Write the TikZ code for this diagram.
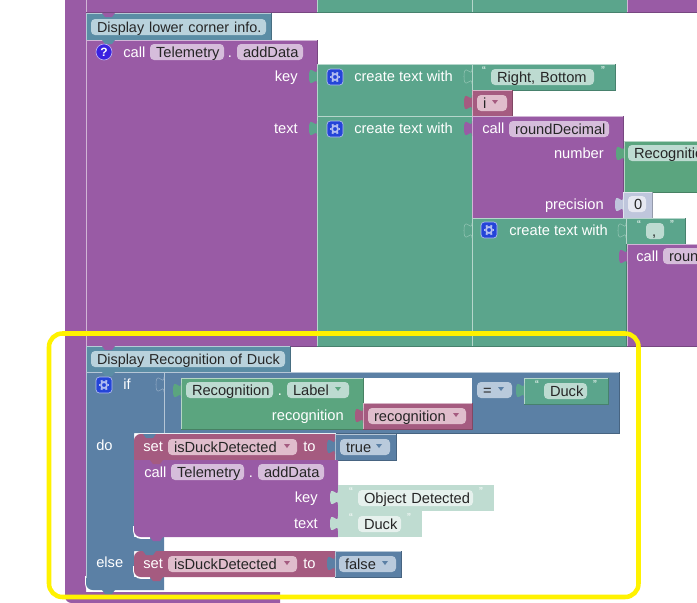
\documentclass[tikz,border=0pt]{standalone}
\usepackage{fontspec}
\setmainfont{Liberation Sans}

\definecolor{purp}{HTML}{995BA5}
\definecolor{purpfld}{HTML}{D6BDDB}
\definecolor{txtgreen}{HTML}{5BA58C}
\definecolor{txtfld}{HTML}{BDDBD1}
\definecolor{objgreen}{HTML}{5BA57F}
\definecolor{logic}{HTML}{5B80A5}
\definecolor{logicfld}{HTML}{B9CADC}
\definecolor{varcol}{HTML}{A55B80}
\definecolor{varfld}{HTML}{E0BDCC}
\definecolor{note}{HTML}{5B8DA5}
\definecolor{notefld}{HTML}{B9D2DC}
\definecolor{numcol}{HTML}{BFC6DC}
\definecolor{numfld}{HTML}{E6E8F1}
\definecolor{paletxt}{HTML}{BFDCD1}
\definecolor{palefld}{HTML}{E6F1ED}
\definecolor{gearblue}{HTML}{2444D8}
\definecolor{helpblue}{HTML}{3A22E0}

\tikzset{
  lbl/.style = {text = white, inner sep = 0pt, text height = 8.5pt, text depth = 1pt,
    font = \fontsize{11}{13}\selectfont},
  field/.style = {text = black!85, rounded corners = 3pt, inner ysep = 0pt, inner xsep = 4.5pt,
    minimum height = 12pt, text height = 8.5pt, text depth = 1pt, align = left,
    font = \fontsize{11}{13}\selectfont},
  quot/.style = {text = white, inner sep = 0pt, font = \fontsize{8.5}{9}\selectfont},
  mutator/.style = {fill = gearblue, draw = white!65!gearblue, line width = .5pt,
    rounded corners = 2.5pt, minimum size = 12pt, inner sep = 0pt},
  helpicon/.style = {circle, fill = helpblue, draw = white!65!helpblue, line width = .5pt,
    text = white, inner sep = 0pt, minimum size = 12pt, font = \fontsize{9}{9}\selectfont\bfseries},
  gearring/.style = {line width = 1.3pt, white!65!gearblue},
  gearteeth/.style = {line width = 1.5pt, white!65!gearblue},
  hilite/.style = {draw = yellow, line width = 3.4pt, rounded corners = 10pt},
  sliver/.style = {draw = white, line width = 1.2pt, rounded corners = 5pt},
}

% rectangular block with its light and dark edges
\newcommand{\blk}[5]{
  \fill[#1] (#2,#3) rectangle (#4,#5);
  \draw[line width = .5pt, white!55!#1] (#2,#5) |- (#4,#3);
  \draw[line width = .5pt, black!22!#1] (#2,#5) -| (#4,#3);
}
\newcommand{\fld}[6]{
  \pgfmathsetmacro{\fldw}{(#4-#3-12)*0.75}
  \node[field, fill = #2, text width = \fldw pt] (#1) at ({(#3+#4)/2},#5) {\mbox{#6}};
}
\newcommand{\ddarrow}[3]{\fill[#3] (#1-3,#2-2) -- (#1+3,#2-2) -- (#1,#2+2) -- cycle;}
\newcommand{\tabpath}[2]{(#1,#2-7.5) .. controls (#1,#2+2.5) and (#1-8,#2-15.5) .. (#1-8,#2)
  .. controls (#1-8,#2+15.5) and (#1,#2-2.5) .. (#1,#2+7.5)}
\newcommand{\tabfull}[3]{\fill[#1] \tabpath{#2}{#3} -- cycle;}
\newcommand{\tabhollow}[3]{\draw[line width = .4pt, white!35!#1] \tabpath{#2}{#3};}
\newcommand{\notch}[3]{\fill[#1] (#2,#3) -- (#2+3,#3+4) -- (#2+10,#3+4) -- (#2+13,#3) -- cycle;}
\newcommand{\gearicon}[3]{
  \node[mutator] (#1) at (#2,#3) {};
  \draw[gearring] (#2,#3) circle (3);
  \foreach \a in {0,60,...,300}
    \draw[gearteeth] ([shift = {(\a:3.6)}]#2,#3) -- ([shift = {(\a:5.4)}]#2,#3);
}

\begin{document}
\begin{tikzpicture}[x = 0.75pt, y = -0.75pt]
  \useasboundingbox (0,0) rectangle (697,603);
  \clip (0,0) rectangle (697,603);

  % stack around the two groups
  \fill[purp] (65,0) -- (86,0) -- (86,592) -- (280,592) -- (280,603)
    [rounded corners = 5pt] -- (65,603) [sharp corners] -- cycle;
  \draw[line width = .5pt, white!55!purp] (86,0) -- (86,346);
  \blk{purp}{86}{-3}{317}{12}
  \blk{txtgreen}{317}{-3}{472}{12}
  \blk{txtgreen}{472}{-3}{627}{12}
  \blk{purp}{627}{-3}{700}{12}

  % lower corner group
  \blk{note}{86}{13}{271}{40}
  \notch{purp}{102}{13}
  \fld{note1}{notefld}{91}{266}{27}{\fontsize{10.8}{13}\selectfont Display lower corner info.}
  \blk{purp}{86}{40}{317}{346}
  \notch{note}{102}{40}
  \node[helpicon] (help1) at (104,52) {?};
  \node[lbl, anchor = west] (call1) at (123,52) {call};
  \fld{tele1}{purpfld}{150}{224}{52}{Telemetry}
  \node[lbl, anchor = center] (dot1) at (230,52) {.};
  \fld{add1}{purpfld}{237}{303}{52}{addData}
  \node[lbl, anchor = east] (key1) at (298,76) {key};
  \node[lbl, anchor = east] (text1) at (298,128) {text};

  \blk{txtgreen}{317}{64}{472}{116}
  \blk{txtgreen}{317}{116}{472}{346}
  \tabfull{txtgreen}{317}{76.5}
  \tabfull{txtgreen}{317}{128.5}
  \gearicon{gear1}{335}{77}
  \gearicon{gear2}{335}{129}
  \node[lbl, anchor = west] (create1) at (354,76) {create text with};
  \node[lbl, anchor = west] (create2) at (354,128) {create text with};

  \blk{txtgreen}{472}{64}{615}{90}
  \tabhollow{txtgreen}{472}{76.5}
  \node[quot] (q1) at (484,71) {“};
  \fld{right1}{txtfld}{491}{594}{77}{Right, Bottom}
  \node[quot] (q2) at (603,71) {”};
  \blk{varcol}{472}{90}{512}{116}
  \tabfull{varcol}{472}{102.5}
  \fld{var1}{varfld}{477}{507}{103}{i}
  \ddarrow{495}{102}{varcol}

  \blk{purp}{472}{116}{623}{218}
  \tabfull{purp}{472}{128.5}
  \node[lbl, anchor = west] (call2) at (482,128) {call};
  \fld{round1}{purpfld}{509}{609}{129}{roundDecimal}
  \node[lbl, anchor = east] (number1) at (604,153) {number};
  \node[lbl, anchor = east] (prec1) at (604,204) {precision};

  \blk{objgreen}{624}{141}{700}{192}
  \tabfull{objgreen}{624}{153.5}
  \fld{recog1}{txtfld}{628}{715}{153}{Recognition}
  \blk{numcol}{623}{192}{652}{218}
  \tabfull{numcol}{623}{204.5}
  \fld{num1}{numfld}{628}{646}{204}{0}

  \blk{txtgreen}{472}{218}{626}{346}
  \tabhollow{txtgreen}{472}{230.5}
  \gearicon{gear3}{489}{230}
  \node[lbl, anchor = west] (create3) at (509,230) {create text with};
  \blk{txtgreen}{626}{218}{685}{244}
  \tabhollow{txtgreen}{626}{230.5}
  \node[quot] (q3) at (639,225) {“};
  \fld{comma1}{txtfld}{646}{664}{231}{,}
  \node[quot] (q4) at (672,225) {”};
  \blk{purp}{627}{244}{700}{346}
  \tabfull{purp}{627}{256.5}
  \node[lbl, anchor = west] (call3) at (636,256) {call};
  \fld{round2}{purpfld}{663}{763}{256}{roundDecimal}

  % duck group
  \blk{note}{86}{346}{290}{372}
  \notch{purp}{102}{346}
  \fld{note2}{notefld}{91}{285}{359}{\fontsize{10.8}{13}\selectfont Display Recognition of Duck}

  \draw[sliver] (86,576) -- (86,591) -- (102,591);
  \fill[logic] (86,372) -- (619,372) -- (619,433) -- (134,433) -- (134,537) -- (164,537) -- (164,551)
    -- (134,551) -- (134,577) -- (164,577) -- (164,590)
    [rounded corners = 5pt] -- (86,590) [sharp corners] -- cycle;
  \draw[line width = .5pt, white!55!logic] (86,578) -- (86,372) -- (619,372);
  \draw[line width = .5pt, white!55!logic] (164,372) -- (164,433);
  \draw[line width = .5pt, black!22!logic] (619,372) -- (619,433) -- (336,433);
  \notch{note}{102}{372}
  \notch{logic}{102}{590}
  \fill[white] (472,378) rectangle (363,403);
  \gearicon{gear4}{104}{385}
  \node[lbl, anchor = west] (if1) at (123,384) {if};
  \tabhollow{logic}{164}{384.5}

  \blk{objgreen}{181}{378}{363}{429}
  \tabfull{objgreen}{181}{390.5}
  \fld{recog2}{txtfld}{186}{273}{390}{Recognition}
  \node[lbl, anchor = center] (dot2) at (280,390) {.};
  \fld{label1}{txtfld}{287}{349}{390}{Label}
  \ddarrow{338}{389}{objgreen}
  \node[lbl, anchor = east] (recl1) at (344,415) {recognition};
  \blk{varcol}{363}{403}{472}{429}
  \tabfull{varcol}{363}{415.5}
  \fld{var2}{varfld}{368}{466}{416}{recognition}
  \ddarrow{456}{415}{varcol}
  \fld{eq1}{logicfld}{477}{512}{390}{=}
  \ddarrow{501}{389}{logic}
  \blk{txtgreen}{524}{378}{608}{404}
  \tabfull{txtgreen}{524}{390.5}
  \node[quot] (q5) at (537,385) {“};
  \fld{duck1}{txtfld}{544}{587}{391}{Duck}
  \node[quot] (q6) at (595,385) {”};

  \node[lbl, anchor = west] (do1) at (96,445) {do};
  \fill[varcol] (335,434) -- (335,460) -- (134,460)
    [rounded corners = 5pt] -- (134,434) [sharp corners] -- cycle;
  \notch{logic}{143}{434}
  \node[lbl, anchor = west] (set1) at (143,446) {set};
  \fld{dv1}{varfld}{168}{297}{447}{isDuckDetected}
  \ddarrow{287}{446}{varcol}
  \node[lbl, anchor = west] (to1) at (303,446) {to};
  \blk{logic}{335}{434}{396}{460}
  \tabfull{logic}{335}{446.5}
  \fld{true1}{logicfld}{340}{390}{447}{true}
  \ddarrow{379}{446}{logic}

  \draw[sliver] (134,526) -- (134,538) -- (150,538);
  \fill[purp] (134,460) -- (338,460) -- (338,537)
    [rounded corners = 5pt] -- (134,537) [sharp corners] -- cycle;
  \notch{varcol}{150}{460}
  \notch{purp}{150}{537}
  \node[lbl, anchor = west] (call4) at (144,472) {call};
  \fld{tele2}{purpfld}{171}{244}{472}{Telemetry}
  \node[lbl, anchor = center] (dot3) at (251,472) {.};
  \fld{add2}{purpfld}{258}{324}{472}{addData}
  \node[lbl, anchor = east] (key2) at (318,497) {key};
  \node[lbl, anchor = east] (text2) at (318,523) {text};

  \fill[paletxt] (338,485) rectangle (494,511);
  \fill[paletxt] (338,511) rectangle (422,537);
  \tabfull{paletxt}{338}{497.5}
  \tabfull{paletxt}{338}{523.5}
  \node[quot] (q7) at (351,492) {“};
  \fld{obj1}{palefld}{358}{473}{498}{Object Detected}
  \node[quot] (q8) at (481,492) {”};
  \node[quot] (q9) at (351,518) {“};
  \fld{duck2}{palefld}{358}{401}{524}{Duck}
  \node[quot] (q10) at (409,518) {”};

  \node[lbl, anchor = west] (else1) at (96,562) {else};
  \draw[sliver] (134,566) -- (134,578) -- (150,578);
  \fill[varcol] (335,551) -- (335,577) [rounded corners = 5pt] -- (134,577) -- (134,551) [sharp corners] -- cycle;
  \notch{logic}{143}{551}
  \notch{varcol}{150}{577}
  \node[lbl, anchor = west] (set2) at (143,563) {set};
  \fld{dv2}{varfld}{168}{297}{564}{isDuckDetected}
  \ddarrow{287}{563}{varcol}
  \node[lbl, anchor = west] (to2) at (303,563) {to};
  \blk{logic}{335}{551}{401}{577}
  \tabfull{logic}{335}{563.5}
  \fld{false1}{logicfld}{339}{396}{564}{false}
  \ddarrow{385}{563}{logic}

  \draw[hilite] (49,333.5) rectangle (638.5,597);
\end{tikzpicture}
\end{document}
